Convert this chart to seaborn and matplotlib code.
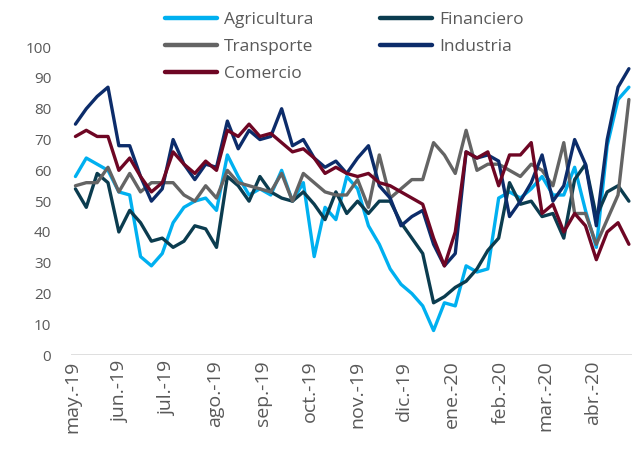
import numpy as np
import pandas as pd
import matplotlib
matplotlib.use("Agg")
import matplotlib.pyplot as plt
import seaborn as sns

sns.set_style("white")
plt.rcParams['font.family'] = ['Open Sans', 'DejaVu Sans']

# weekly dates
dates = pd.date_range("2019-05-03", "2020-04-24", freq="W-FRI")

agricultura = [58, 64, 62, 60, 53, 52, 32, 29, 33, 43, 48, 50, 51, 47, 65, 58, 52, 54,
               52, 60, 50, 56, 32, 48, 44, 58, 54, 42, 36, 28, 23, 20, 16, 8, 17, 16,
               29, 27, 28, 51, 53, 51, 54, 58, 52, 52, 61, 47, 35, 68, 83, 87]
financiero = [54, 48, 59, 56, 40, 47, 43, 37, 38, 35, 37, 42, 41, 35, 58, 55, 50, 58,
              53, 51, 50, 53, 49, 44, 53, 46, 50, 46, 50, 50, 43, 38, 33, 17, 19, 22,
              24, 28, 34, 38, 56, 49, 50, 45, 46, 38, 57, 62, 45, 53, 55, 50]
transporte = [55, 56, 56, 61, 53, 59, 53, 56, 56, 56, 52, 50, 55, 51, 60, 56, 55, 54,
              53, 59, 50, 59, 56, 53, 52, 52, 57, 48, 65, 51, 54, 57, 57, 69, 65, 59,
              73, 60, 62, 62, 60, 58, 62, 60, 55, 69, 46, 46, 36, 44, 52, 83]
industria = [75, 80, 84, 87, 68, 68, 58, 50, 54, 70, 62, 57, 62, 61, 76, 67, 73, 70,
             71, 80, 68, 70, 64, 61, 63, 59, 64, 68, 55, 51, 42, 45, 47, 36, 29, 33,
             66, 64, 65, 63, 45, 50, 56, 65, 50, 55, 70, 62, 42, 70, 87, 93]
comercio = [71, 73, 71, 71, 60, 64, 58, 53, 56, 66, 62, 59, 63, 60, 73, 71, 75, 71,
            72, 69, 66, 67, 64, 59, 61, 59, 58, 59, 56, 55, 53, 51, 49, 38, 29, 40,
            66, 64, 66, 55, 65, 65, 69, 46, 49, 40, 46, 42, 31, 40, 43, 36]

series = {
    "Agricultura": agricultura,
    "Financiero": financiero,
    "Transporte": transporte,
    "Industria": industria,
    "Comercio": comercio,
}
colors = {
    "Agricultura": "#00B0F0",
    "Financiero": "#0B3C4F",
    "Transporte": "#646464",
    "Industria": "#0C2C6A",
    "Comercio": "#6E0624",
}

month_ticks = pd.date_range("2019-05-01", "2020-04-01", freq="MS")
month_labels = ["may.-19", "jun.-19", "jul.-19", "ago.-19", "sep.-19", "oct.-19",
                "nov.-19", "dic.-19", "ene.-20", "feb.-20", "mar.-20", "abr.-20"]

df = pd.DataFrame({"fecha": np.tile(dates, len(series)),
                   "sector": np.repeat(list(series.keys()), len(dates)),
                   "valor": np.concatenate([series[k] for k in series])})

fig = plt.figure(figsize=(6.32, 4.49), dpi=100)
ax = fig.add_axes([0.112, 0.209, 0.888, 0.686])

sns.lineplot(data=df, x="fecha", y="valor", hue="sector", palette=colors,
             linewidth=2.4, ax=ax, legend=False)
for ln in ax.get_lines():
    ln.set_solid_joinstyle("round")
    ln.set_solid_capstyle("round")

ax.axhline(0, color="#D9D9D9", lw=1.2, zorder=0)
ax.set_ylim(0, 100)
ax.set_yticks(range(0, 101, 10))
ax.set_xlim(pd.Timestamp("2019-04-30"), pd.Timestamp("2020-04-26"))
ax.set_xticks(month_ticks)
ax.set_xticklabels(month_labels, rotation=90)
ax.tick_params(axis="both", length=0, colors="#595959")
ax.tick_params(axis="y", labelsize=11, pad=14)
ax.tick_params(axis="x", labelsize=14, pad=4)
ax.set_xlabel("")
ax.set_ylabel("")
sns.despine(ax=ax, left=True, bottom=True)

order = ["Agricultura", "Transporte", "Comercio", "Financiero", "Industria"]
handles = [plt.Line2D([], [], color=colors[k], lw=3.2) for k in order]
fig.legend(handles, order, ncol=2, loc="upper left", bbox_to_anchor=(0.236, 1.008),
           frameon=False, fontsize=12.5, handlelength=3.0, handletextpad=0.4,
           columnspacing=3.85, labelspacing=0.62, labelcolor="#595959")

fig.savefig("out.png", dpi=100)
